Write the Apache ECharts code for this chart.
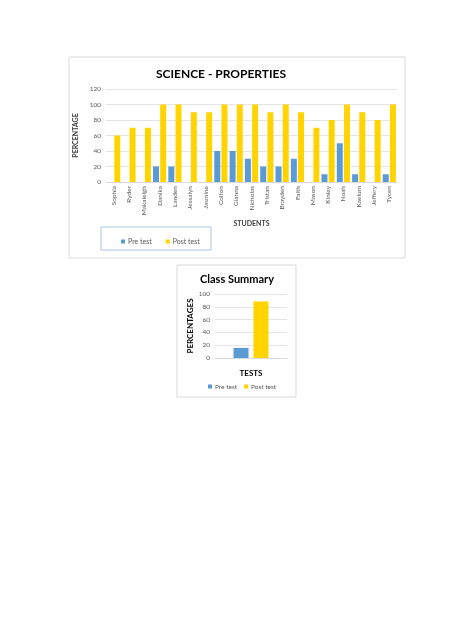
<!DOCTYPE html>
<html lang="en">
<head>
    <meta charset="UTF-8">
    <title>Science - Properties</title>
    <script src="https://cdn.jsdelivr.net/npm/echarts@6/dist/echarts.min.js"></script>
    <style>
        html, body { margin: 0; padding: 0; background: #fff; }
        #chart { width: 474px; height: 632px; }
    </style>
</head>
<body>
<div id="chart"></div>
<script>
    // student scores
    var students = ['Sophia', 'Ryder', 'Makaleigh', 'Danika', 'Landen', 'Jessalyn', 'Jasmine', 'Colton', 'Gianna',
        'Nicholas', 'Tristan', 'Brayden', 'Faith', 'Mason', 'Kinley', 'Noah', 'Kaelum', 'Jeffery', 'Tycen'];
    var preTest = [0, 0, 0, 20, 20, 0, 0, 40, 40, 30, 20, 20, 30, 0, 10, 50, 10, 0, 10];
    var postTest = [60, 70, 70, 100, 100, 90, 90, 100, 100, 100, 90, 100, 90, 70, 80, 100, 90, 80, 100];

    // class summary
    var summaryCats = [''];
    var summaryPre = [15.8];
    var summaryPost = [88.4];

    var BLUE = '#5B9BD5';
    var YELLOW = '#FFD400';
    var FONT = 'Lato';

    var chart = echarts.init(document.getElementById('chart'));

    var yAxisCommon = {
        type: 'value',
        min: 0,
        interval: 20,
        nameLocation: 'middle',
        nameTextStyle: { fontFamily: FONT, fontWeight: 'bold', fontSize: 7, color: '#404040' },
        axisLine: { show: false },
        axisTick: { show: false },
        axisLabel: { fontFamily: FONT, fontSize: 6.5, color: '#595959', margin: 5 },
        splitLine: { lineStyle: { color: '#d9d9d9', width: 0.7 } }
    };

    var option = {
        backgroundColor: '#fff',
        animation: false,
        graphic: [
            { type: 'rect', shape: { x: 69, y: 57, width: 336, height: 201 }, style: { fill: 'none', stroke: '#d9d9d9', lineWidth: 1 } },
            { type: 'rect', shape: { x: 101, y: 227, width: 110, height: 23 }, style: { fill: 'none', stroke: '#a9c4e2', lineWidth: 1 } },
            { type: 'rect', shape: { x: 177, y: 265, width: 119, height: 132 }, style: { fill: 'none', stroke: '#d9d9d9', lineWidth: 1 } },
            { type: 'text', x: 221, y: 74, style: { text: 'SCIENCE - PROPERTIES', textAlign: 'center', textVerticalAlign: 'middle', font: 'bold 12px Lato', fill: '#000' } },
            { type: 'text', x: 237, y: 279, style: { text: 'Class Summary', textAlign: 'center', textVerticalAlign: 'middle', font: 'bold 11px Lato', fill: '#000' } }
        ],
        legend: [
            {
                left: 116, top: 233,
                icon: 'rect', itemWidth: 4, itemHeight: 4, itemGap: 14,
                textStyle: { fontFamily: FONT, fontSize: 7, color: '#595959', padding: [0, 0, 0, -2] },
                data: ['Pre test', 'Post test']
            },
            {
                left: 203, top: 378,
                icon: 'rect', itemWidth: 4, itemHeight: 4, itemGap: 7,
                textStyle: { fontFamily: FONT, fontSize: 6.5, color: '#595959', padding: [0, 0, 0, -2] },
                data: ['Pre test', 'Post test']
            }
        ],
        grid: [
            { left: 106, right: 77, top: 89, bottom: 450 },
            { left: 215, right: 187, top: 294, bottom: 274 }
        ],
        xAxis: [
            {
                type: 'category', gridIndex: 0, data: students,
                name: 'STUDENTS', nameLocation: 'middle', nameGap: 38,
                nameTextStyle: { fontFamily: FONT, fontWeight: 'bold', fontSize: 7, color: '#404040' },
                axisLine: { lineStyle: { color: '#d9d9d9' } },
                axisTick: { show: false },
                axisLabel: { rotate: 90, interval: 0, fontFamily: FONT, fontSize: 6.5, color: '#595959', margin: 4 }
            },
            {
                type: 'category', gridIndex: 1, data: summaryCats,
                name: 'TESTS', nameLocation: 'middle', nameGap: 11,
                nameTextStyle: { fontFamily: FONT, fontWeight: 'bold', fontSize: 8, color: '#000' },
                axisLine: { lineStyle: { color: '#d9d9d9' } },
                axisTick: { show: false },
                axisLabel: { show: false }
            }
        ],
        yAxis: [
            Object.assign({}, yAxisCommon, { gridIndex: 0, max: 120, name: 'PERCENTAGE', nameGap: 25 }),
            Object.assign({}, yAxisCommon, {
                gridIndex: 1, max: 100, name: 'PERCENTAGES', nameGap: 20,
                nameTextStyle: { fontFamily: FONT, fontWeight: 'bold', fontSize: 8, color: '#000' }
            })
        ],
        series: [
            { name: 'Pre test', type: 'bar', xAxisIndex: 0, yAxisIndex: 0, data: preTest, barWidth: 6, barGap: '20%', itemStyle: { color: BLUE } },
            { name: 'Post test', type: 'bar', xAxisIndex: 0, yAxisIndex: 0, data: postTest, barWidth: 6, barGap: '20%', itemStyle: { color: YELLOW } },
            { name: 'Pre test', type: 'bar', xAxisIndex: 1, yAxisIndex: 1, data: summaryPre, barWidth: 15, barGap: '33%', itemStyle: { color: BLUE } },
            { name: 'Post test', type: 'bar', xAxisIndex: 1, yAxisIndex: 1, data: summaryPost, barWidth: 15, barGap: '33%', itemStyle: { color: YELLOW } }
        ]
    };

    chart.setOption(option);
</script>
</body>
</html>
